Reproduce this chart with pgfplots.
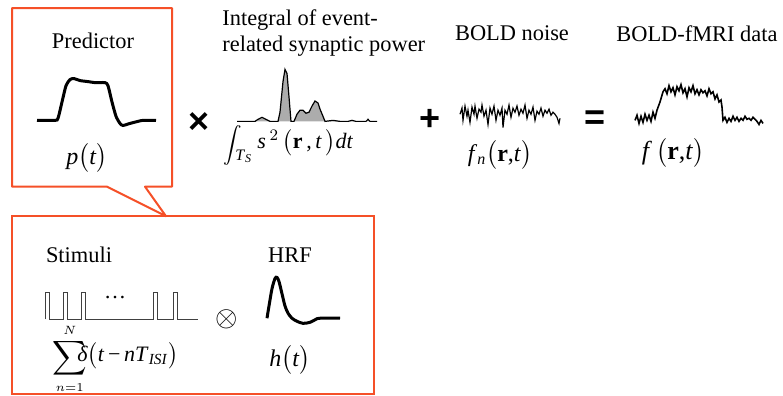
\documentclass[border=0pt]{standalone}
\usepackage{exscale}
\usepackage{fontspec}
\setmainfont{Liberation Serif}
\newfontfamily\opfont{Liberation Sans}
\usepackage{pgfplots}
\pgfplotsset{compat=1.18}
\definecolor{boxred}{RGB}{245,80,40}
\newcommand{\mi}[1]{\textit{#1}}
\begin{document}
\begin{tikzpicture}
\begin{axis}[name=ax, scale only axis, width=391.5pt, height=194pt,
  xmin=0, xmax=783, ymin=0, ymax=388, y dir=reverse,
  hide axis, clip=false, no markers]
% callout box (top)
\addplot[draw=boxred, line width=1pt, line join=round] coordinates {
 (12,8)(172,8)(172,183)(145,183)(166,212)(107,183)(12,183)(12,8)(172,8)};
% lower box
\addplot[draw=boxred, line width=1pt, line join=miter] coordinates {
 (12,212)(374,212)(374,386)(12,386)(12,212)(374,212)};
% predictor p(t)
\addplot[black, line width=1.5pt, smooth, tension=0.4] coordinates {
 (37,118)(55,118)(58,116)(62,100)(66,84)(70,78)(74,77)(80,79)(88,80)(95,81)(105,81)(108,84)(112,100)(116,114)(120,121)(123,123)(130,121)(138,119)(143,118)(156,118)};
% synaptic power
\addplot[draw=black, fill=gray!65, line width=0.6pt] coordinates {
 (237,119)(255,119)(258,117)(262,115)(266,117)(270,119)(278,119)(280,110)(283,80)(285,68)(287,72)(289,95)(291,119)(294,119)(297,112)(300,108)(303,108)(306,111)(309,110)(312,104)(315,99)(318,101)(320,107)(323,114)(325,119)(333,118)(340,119)(348,119)(352,118)(356,119)(366,119)(368,117)(370,119)(377,119)};
% BOLD noise
\addplot[black, line width=0.6pt] coordinates {
 (460,112)(462,106)(463,118)(465,104)(467,114)(468,108)(470,120)(472,105)(474,112)(475,104)(477,116)(479,107)(481,110)(482,103)(484,114)(486,108)(488,122)(490,106)(492,112)(494,104)(496,118)(498,108)(500,113)(502,106)(503,125)(505,108)(507,112)(509,103)(511,115)(513,106)(515,110)(517,104)(519,113)(521,107)(523,111)(525,103)(527,116)(529,108)(531,112)(533,105)(535,118)(537,109)(539,112)(541,106)(543,114)(545,108)(547,111)(549,107)(551,113)(553,110)(555,112)(557,115)(559,121)(560,116)};
% BOLD-fMRI data
\addplot[black, line width=0.8pt] coordinates {
 (635,118)(637,113)(639,121)(641,114)(643,120)(645,112)(647,118)(649,113)(651,119)(653,110)(655,116)(657,108)
 (660,100)(663,90)(665,87)(667,92)(669,84)(671,90)(673,86)(675,93)(677,85)(679,89)(681,83)(683,91)(685,87)(687,95)(689,86)(691,90)(693,84)(695,92)(697,88)(699,93)(701,88)(703,91)(705,89)(707,94)(709,87)(711,92)(713,90)(715,97)(717,93)(719,100)(721,98)
 (722,105)(723,118)(725,115)(727,120)(729,116)(731,119)(733,114)(735,118)(737,115)(739,119)(741,116)(743,118)(745,114)(747,117)(749,116)(751,118)(753,115)(755,117)(757,119)(759,122)(761,118)(763,121)};
% stimuli
\addplot[black!75, line width=0.5pt] coordinates {
 (45,313)(45,287)(49,287)(49,313)(63,313)(63,287)(67,287)(67,313)(81,313)(81,287)(85,287)(85,313)(153,313)(153,287)(157,287)(157,313)(173,313)(173,287)(177,287)(177,313)(198,313)};
% HRF
\addplot[black, line width=1.5pt, smooth, tension=0.5] coordinates {
 (267,312)(269,300)(272,283)(275,273)(277,272)(279,276)(282,288)(285,300)(288,307)(292,312)(297,315)(303,317)(310,316)(316,313)(320,312)(340,312)};
% texts
\node[font=\fontsize{11.2}{13}\selectfont] at (axis cs:93,40) {Predictor};
\node[font=\fontsize{11.2}{13}\selectfont, anchor=west, inner sep=0pt] at (axis cs:222,20) {Integral of event-};
\node[font=\fontsize{11.2}{13}\selectfont, anchor=west, inner sep=0pt] at (axis cs:222,45) {related synaptic power};
\node[font=\fontsize{11.2}{13}\selectfont] at (axis cs:512,33) {BOLD noise};
\node[font=\fontsize{11.2}{13}\selectfont] at (axis cs:697,33) {BOLD-fMRI data};
\node[font=\fontsize{11.2}{13}\selectfont] at (axis cs:79,250) {Stimuli};
\node[font=\fontsize{11.2}{13}\selectfont] at (axis cs:290,250) {HRF};
% formulas
\node[font=\fontsize{12}{15}\selectfont] at (axis cs:87,155) {\mi{p}$\bigl($\mi{t}$\bigr)$};
\node[font=\fontsize{9}{10}\selectfont, anchor=west, inner sep=0pt] at (axis cs:223,143) {$\displaystyle\int$};
\node[font=\fontsize{8}{9}\selectfont, anchor=west, inner sep=0pt] at (axis cs:235,153) {\mi{T}\textsubscript{\mi{S}}};
\node[font=\fontsize{11}{13}\selectfont, anchor=west, inner sep=0pt] at (axis cs:257,140) {\mi{s}\,$^{2}$\,$\bigl($\textbf{r}\,,\,\mi{t}\,$\bigr)$\mi{dt}};
\node[font=\fontsize{12}{15}\selectfont] at (axis cs:500,152) {\mi{f}\textsubscript{\mi{n}}$\bigl($\textbf{r},\mi{t}$\bigr)$};
\node[font=\fontsize{13}{16}\selectfont] at (axis cs:673,150) {\mi{f}\,$\bigl($\textbf{r},\mi{t}$\bigr)$};
\node[font=\fontsize{12}{14}\selectfont, anchor=west, inner sep=0pt] at (axis cs:52,352) {$\displaystyle\sum_{\scriptscriptstyle n=1}^{\scriptscriptstyle N}$};
\node[font=\fontsize{11}{13}\selectfont, anchor=west, inner sep=0pt] at (axis cs:77,349) {\mi{δ}$\bigl($\mi{t}\,−\,\mi{n}\mi{T}\textsubscript{\mi{ISI}}$\bigr)$};
\node[font=\fontsize{12}{15}\selectfont] at (axis cs:290,353) {\mi{h}$\bigl($\mi{t}$\bigr)$};
\node[font=\fontsize{11}{13}\selectfont] at (axis cs:115,292) {…};
% operators
\node[font=\opfont\bfseries\fontsize{18}{18}\selectfont] at (axis cs:199,121) {×};
\node[font=\opfont\bfseries\fontsize{18}{18}\selectfont] at (axis cs:430,118) {+};
\node[font=\opfont\bfseries\fontsize{18}{18}\selectfont] at (axis cs:595,118) {=};
\node[font=\fontsize{14}{14}\selectfont] at (axis cs:227,313) {$\otimes$};
\end{axis}
\pgfresetboundingbox
\useasboundingbox (ax.south west) rectangle (ax.north east);
\end{tikzpicture}
\end{document}
